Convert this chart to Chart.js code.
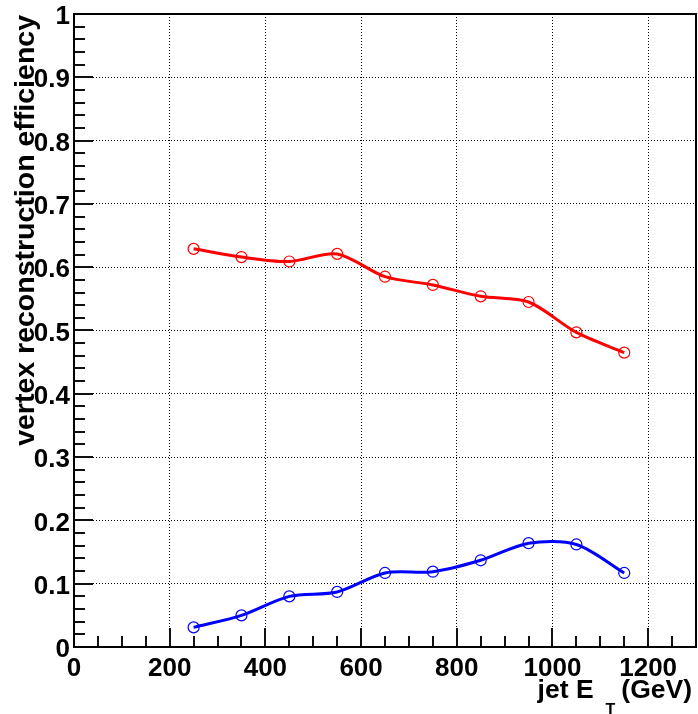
<!DOCTYPE html>
<html>
<head>
<meta charset="utf-8">
<script src="https://cdn.jsdelivr.net/npm/chart.js@4.4.1/dist/chart.umd.min.js"></script>
<style>
  html, body { margin: 0; padding: 0; background: #fff; }
  #wrap { width: 698px; height: 714px; }
</style>
</head>
<body>
<div id="wrap"><canvas id="eff" width="698" height="714"></canvas></div>
<script>
// jet E_T bin centres (GeV)
var jetEt = [250, 350, 450, 550, 650, 750, 850, 950, 1050, 1150];
// vertex reconstruction efficiency
var effRed  = [0.629, 0.616, 0.609, 0.621, 0.585, 0.572, 0.554, 0.545, 0.497, 0.465];
var effBlue = [0.031, 0.050, 0.080, 0.087, 0.117, 0.119, 0.137, 0.164, 0.162, 0.117];

var xRange = [0, 1300];
var yRange = [0, 1];
var xMajor = 200, xMinor = 50;
var yMajor = 0.1, yMinor = 0.02;

var FONT = "'Liberation Sans', Arial, Helvetica, sans-serif";

(function() {
  'use strict';

  function points(ys) {
    return jetEt.map(function(x, i) { return { x: x, y: ys[i] }; });
  }

  function series(ys, color) {
    return {
      data: points(ys),
      borderColor: color,
      borderWidth: 3,
      tension: 0.3,
      fill: false,
      pointStyle: 'circle',
      pointRadius: 5.5,
      pointBorderWidth: 1.2,
      pointBorderColor: color,
      pointBackgroundColor: 'rgba(0,0,0,0)'
    };
  }

  // no extra room for half labels: frame must sit at fixed pixels
  function noPad(s) {
    s.paddingTop = 0;
    s.paddingBottom = 0;
    s.paddingLeft = 0;
    s.paddingRight = 0;
  }

  // ROOT-style frame, inward tick marks and axis titles
  var rootFrame = {
    id: 'rootFrame',
    afterDatasetsDraw: function(chart) {
      var ctx = chart.ctx, a = chart.chartArea;
      var xs = chart.scales.x, ys = chart.scales.y;
      var v, p, len;
      ctx.save();

      ctx.strokeStyle = '#111';
      ctx.lineWidth = 2;
      ctx.beginPath();
      for (v = yRange[0]; v <= yRange[1] + 1e-9; v += yMinor) {
        p = Math.round(ys.getPixelForValue(v));
        len = Math.abs(v / yMajor - Math.round(v / yMajor)) < 1e-6 ? 19 : 11;
        ctx.moveTo(a.left, p);
        ctx.lineTo(a.left + len, p);
      }
      for (v = xRange[0]; v < xRange[1]; v += xMinor) {
        p = Math.round(xs.getPixelForValue(v));
        len = v % xMajor === 0 ? 19 : 11;
        ctx.moveTo(p, a.bottom);
        ctx.lineTo(p, a.bottom - len);
      }
      ctx.stroke();

      ctx.lineWidth = 2;
      ctx.strokeStyle = '#000';
      ctx.strokeRect(a.left, a.top, a.right - a.left, a.bottom - a.top);

      // y title
      ctx.fillStyle = '#000';
      ctx.font = 'bold 28.5px ' + FONT;
      ctx.translate(34, 15);
      ctx.rotate(-Math.PI / 2);
      ctx.textAlign = 'right';
      ctx.textBaseline = 'alphabetic';
      ctx.fillText('vertex reconstruction efficiency', 0, 0);
      ctx.setTransform(1, 0, 0, 1, 0, 0);

      // x title: jet E_T (GeV)
      var big = 'bold 26.5px ' + FONT, small = 'bold 16px ' + FONT;
      var right = 692, base = 698;
      ctx.textAlign = 'left';
      ctx.font = big;
      var wUnit = ctx.measureText('(GeV)').width;
      var wHead = ctx.measureText('jet E').width;
      ctx.font = small;
      var wSub = ctx.measureText('T').width;
      var xUnit = right - wUnit;
      var xSub = xUnit - 6 - wSub;
      var xHead = xSub - 12 - wHead;
      ctx.font = big;
      ctx.fillText('(GeV)', xUnit, base);
      ctx.fillText('jet E', xHead, base);
      ctx.font = small;
      ctx.fillText('T', xSub, base + 17);

      ctx.restore();
    }
  };

  function init() {
    var canvas = document.getElementById('eff');

    new Chart(canvas.getContext('2d'), {
      type: 'line',
      data: {
        datasets: [series(effRed, '#ff0000'), series(effBlue, '#0000ff')]
      },
      options: {
        responsive: false,
        animation: false,
        layout: { autoPadding: false, padding: { top: 14, right: 2, left: 0, bottom: 0 } },
        plugins: {
          legend: { display: false },
          tooltip: { enabled: false }
        },
        scales: {
          x: {
            type: 'linear',
            min: xRange[0],
            max: xRange[1],
            afterFit: function(s) { s.height = 67; noPad(s); },
            grid: { color: '#000', lineWidth: 1, drawTicks: false },
            border: { display: true, color: '#000', width: 2, dash: [1, 2] },
            ticks: {
              stepSize: xMajor,
              includeBounds: false,
              padding: 6,
              maxRotation: 0,
              autoSkip: false,
              color: '#000',
              font: { family: FONT, size: 26, weight: 'bold' },
              callback: function(v) { return String(v); }
            }
          },
          y: {
            min: yRange[0],
            max: yRange[1],
            afterFit: function(s) { s.width = 74; noPad(s); },
            grid: { color: '#000', lineWidth: 1, drawTicks: false },
            border: { display: true, color: '#000', width: 2, dash: [1, 2] },
            ticks: {
              stepSize: yMajor,
              padding: 4,
              labelOffset: 3,
              autoSkip: false,
              color: '#000',
              font: { family: FONT, size: 26, weight: 'bold' },
              callback: function(v) { return String(parseFloat(v.toFixed(1))); }
            }
          }
        }
      },
      plugins: [rootFrame]
    });
  }

  if (document.readyState === 'loading') {
    document.addEventListener('DOMContentLoaded', init);
  } else {
    init();
  }
})();
</script>
</body>
</html>
